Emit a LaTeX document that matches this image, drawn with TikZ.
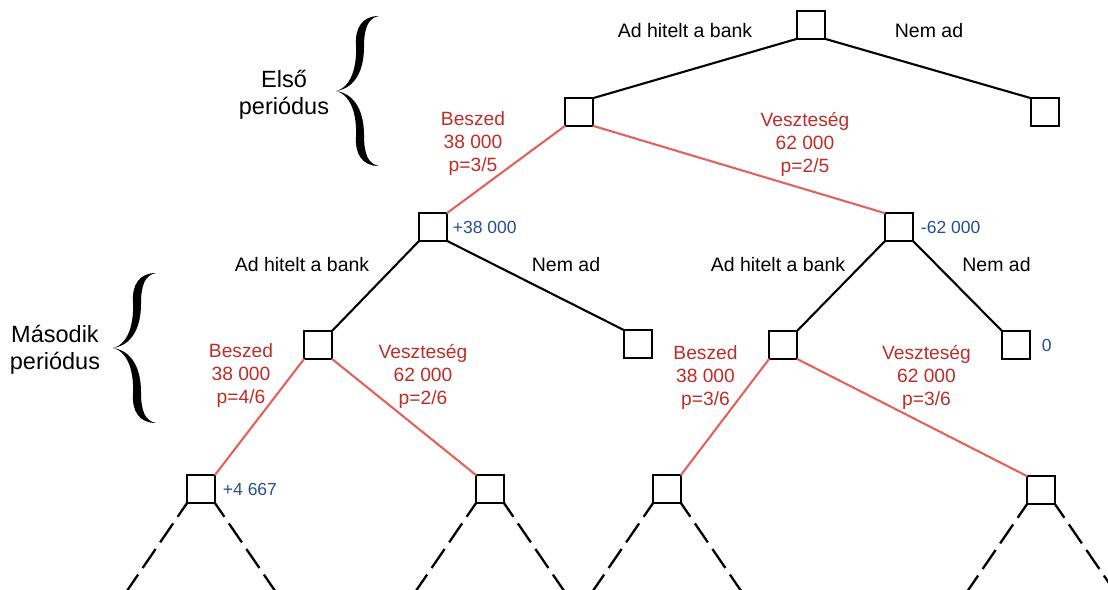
\documentclass[tikz,border=0pt]{standalone}
\usepackage{fontspec}
\setmainfont{Liberation Sans}
\usetikzlibrary{positioning}
\definecolor{probred}{RGB}{192,45,40}
\definecolor{branchred}{RGB}{228,98,92}
\definecolor{valueblue}{RGB}{38,78,150}

% curly brace in front of a period label (tip at the origin)
\tikzset{periodbrace/.pic={
  \fill (43,-75) .. controls (26,-75) and (19,-63) .. (20,-46)
    .. controls (21,-26) and (16,-4) .. (0,0)
    .. controls (20,-3) and (28,-22) .. (28,-44)
    .. controls (28,-63) and (32,-73) .. (43,-75) -- cycle;
  \fill (43,75) .. controls (26,75) and (19,63) .. (20,46)
    .. controls (21,26) and (16,4) .. (0,0)
    .. controls (20,3) and (28,22) .. (28,44)
    .. controls (28,63) and (32,73) .. (43,75) -- cycle;
}}

\begin{document}
\begin{tikzpicture}[x=1pt,y=-1pt]
  \tikzstyle{decision}=[draw=black,line width=2.2pt,minimum size=27.5pt,inner sep=0pt,outer sep=0pt]
  \tikzstyle{choice}=[font=\fontsize{19.5}{23}\selectfont,text=black,inner sep=0pt]
  \tikzstyle{chance}=[font=\fontsize{19.2}{23}\selectfont,text=probred,align=center,inner sep=0pt]
  \tikzstyle{payoff}=[font=\fontsize{17.5}{20}\selectfont,text=valueblue,inner sep=0pt]
  \tikzstyle{period}=[font=\fontsize{23.5}{26.5}\selectfont,align=center,inner sep=0pt]
  \tikzstyle{bank}=[line width=2.1pt,black]
  \tikzstyle{outcome}=[line width=2.1pt,branchred]
  \tikzstyle{later}=[line width=2.3pt,black,dash pattern=on 23pt off 8pt,dash phase=6pt]
\useasboundingbox (0,0) rectangle (1108,589);

% decision boxes
\node[decision] (root) at (811,25) {};
\node[decision] (lend1) at (579,112) {};
\node[decision] (refuse1) at (1045,112) {};
\node[decision] (gain1) at (433,227) {};
\node[decision] (loss1) at (899,227) {};
\node[decision] (lend2a) at (318,345) {};
\node[decision] (refuse2a) at (638,344) {};
\node[decision] (lend2b) at (783,345) {};
\node[decision] (refuse2b) at (1016,345) {};
\node[decision] (gain2a) at (201,489) {};
\node[decision] (loss2a) at (490,489) {};
\node[decision] (gain2b) at (667,489) {};
\node[decision] (loss2b) at (1041,490) {};

% payoffs
\node[payoff,right=6pt of gain1] (pay1) {+38 000};
\node[payoff,right=8pt of loss1] (pay2) {-62 000};
\node[payoff,right=12pt of refuse2b] (pay3) {0};
\node[payoff,right=8pt of gain2a] (pay4) {+4 667};

% choices of the bank
\node[choice] (lendlbl1) at (685,31) {Ad hitelt a bank};
\node[choice] (refuselbl1) at (929,31) {Nem ad};
\node[choice] (lendlbl2a) at (302,265) {Ad hitelt a bank};
\node[choice] (refuselbl2a) at (566,265) {Nem ad};
\node[choice] (lendlbl2b) at (778,265) {Ad hitelt a bank};
\node[choice] (refuselbl2b) at (996.5,265) {Nem ad};

% outcomes
\node[chance] (gainlbl1) at (473,144) {Beszed\\38 000\\p=3/5};
\node[chance] (losslbl1) at (805,144) {Veszteség\\62 000\\p=2/5};
\node[chance] (gainlbl2a) at (241,376) {Beszed\\38 000\\p=4/6};
\node[chance] (losslbl2a) at (423,376) {Veszteség\\62 000\\p=2/6};
\node[chance] (gainlbl2b) at (705.5,378) {Beszed\\38 000\\p=3/6};
\node[chance] (losslbl2b) at (926.5,377) {Veszteség\\62 000\\p=3/6};

% periods
\node[period] (first) at (284,95) {Első\\periódus};
\node[period] (second) at (55,350) {Második\\periódus};
\pic at (336,91) {periodbrace};
\pic at (113,348) {periodbrace};

\draw[bank] (root.south west) -- (lend1.north east);
\draw[bank] (root.south east) -- (refuse1.north west);
\draw[outcome] (lend1.south west) -- (gain1.north east);
\draw[outcome] (lend1.south east) -- (loss1.north west);
\draw[bank] (gain1.south west) -- (lend2a.north east);
\draw[bank] (gain1.south east) -- (refuse2a.north west);
\draw[bank] (loss1.south west) -- (lend2b.north east);
\draw[bank] (loss1.south east) -- (refuse2b.north west);
\draw[outcome] (lend2a.south west) -- (gain2a.north east);
\draw[outcome] (lend2a.south east) -- (loss2a.north west);
\draw[outcome] (lend2b.south west) -- (gain2b.north east);
\draw[outcome] (lend2b.south east) -- (loss2b.north west);

% the tree goes on
\foreach \leaf in {gain2a,loss2a,gain2b,loss2b}{
  \path (\leaf.south west) ++(-65,95) coordinate (\leaf-l);
  \path (\leaf.south east) ++(65,95) coordinate (\leaf-r);
  \draw[later] (\leaf.south west) -- (\leaf-l);
  \draw[later] (\leaf.south east) -- (\leaf-r);
}
\end{tikzpicture}
\end{document}
